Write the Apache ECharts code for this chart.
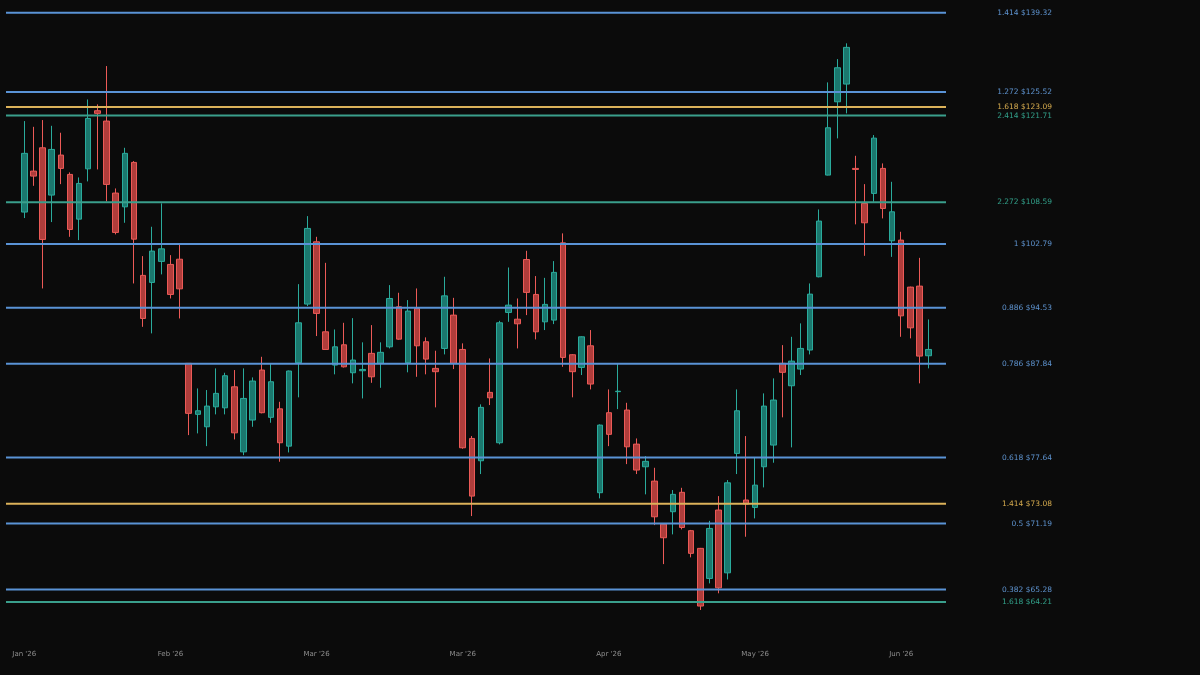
<!DOCTYPE html>
<html>
<head>
<meta charset="utf-8">
<script src="https://cdn.jsdelivr.net/npm/echarts@6/dist/echarts.min.js"></script>
<style>
html,body{margin:0;padding:0;background:#0b0b0b;}
#chart{width:1200px;height:675px;}
</style>
</head>
<body>
<div id="chart"></div>
<script>
// ---- data ----
const tickLabels = ["Jan '26", "Feb '26", "Mar '26", "Mar '26", "Apr '26", "May '26", "Jun '26"];

const open = [107.21,113.14,116.66,109.63,115.55,112.65,106.22,113.48,122.48,120.83,
  109.92,107.95,114.44,98.65,97.74,100.48,100.08,100.77,87.88,82.18,
  80.85,83.00,82.89,85.21,78.23,81.57,87.11,81.86,82.78,78.82,
  87.95,95.00,103.10,91.60,87.68,90.05,86.80,87.03,89.04,87.88,
  89.81,94.66,87.95,94.46,90.41,87.30,89.62,93.63,89.50,79.62,
  77.32,84.59,79.17,93.96,93.13,100.73,96.21,92.81,93.02,102.96,
  88.88,87.41,89.93,74.14,82.36,84.67,82.65,79.03,76.71,75.28,
  71.14,72.31,74.18,70.53,68.91,66.24,72.47,66.73,78.07,73.43,
  72.72,76.71,78.93,87.88,85.33,87.22,89.43,98.47,112.55,123.93,
  126.85,113.54,108.44,109.87,113.54,103.24,103.33,97.14,97.27,88.76];

const close = [115.81,112.40,103.42,116.41,113.54,104.79,111.32,121.25,122.06,111.18,
  104.38,115.81,103.46,93.22,101.85,102.15,96.21,96.92,82.29,82.57,
  83.08,84.48,86.46,80.21,83.92,85.86,82.36,85.78,79.17,87.00,
  92.69,104.93,93.84,89.50,89.81,87.48,88.26,87.18,86.34,89.16,
  95.70,90.72,94.13,89.93,88.37,86.92,96.03,87.88,78.65,73.81,
  82.94,83.99,92.69,94.87,92.57,96.47,91.60,94.96,99.04,88.57,
  86.92,91.00,85.52,81.03,80.05,84.72,78.75,76.38,77.26,71.83,
  69.88,73.98,70.83,68.46,63.88,70.74,65.43,75.11,82.57,73.04,
  74.88,83.08,83.74,86.85,88.14,89.62,96.25,105.95,119.77,129.60,
  133.12,113.39,105.71,118.15,107.72,107.25,93.54,92.08,88.72,89.50];

const low = [106.37,110.97,96.97,105.81,111.22,103.78,103.33,111.62,113.39,108.72,
  104.11,105.71,97.61,92.20,91.41,98.78,95.70,93.22,79.97,80.15,
  78.82,82.18,82.18,79.52,77.89,80.85,82.29,81.28,77.22,78.17,
  84.04,94.75,91.09,89.45,86.62,87.40,85.60,83.92,85.66,85.10,
  89.62,90.65,86.85,86.34,86.62,82.94,88.92,87.22,78.55,71.90,
  75.98,83.19,79.00,92.81,89.62,93.63,90.69,91.81,92.53,87.48,
  84.04,86.54,84.92,73.59,78.82,82.75,76.98,75.98,73.98,71.05,
  67.50,70.19,70.65,68.10,63.55,65.81,64.96,66.15,75.98,69.97,
  71.68,74.66,77.12,81.86,78.69,86.54,88.92,98.40,112.50,118.11,
  122.06,105.49,101.22,108.67,106.32,101.08,91.00,90.81,85.60,87.30];

const high = [120.83,119.92,120.99,120.08,118.99,112.95,112.20,124.31,123.51,129.89,
  110.59,116.66,114.64,101.18,105.16,108.44,101.31,102.79,87.91,85.03,
  84.85,87.30,86.80,87.11,87.30,86.27,88.64,87.88,83.55,87.05,
  97.52,106.64,103.78,100.29,91.88,92.69,93.26,90.34,92.41,90.34,
  97.40,96.42,95.50,96.97,90.93,89.35,98.47,95.78,90.22,79.87,
  83.27,88.45,92.93,99.68,95.70,101.89,98.56,98.33,100.52,104.25,
  88.95,91.05,91.81,81.10,84.92,87.80,83.44,79.62,77.79,76.61,
  71.20,74.40,74.62,70.60,68.95,71.45,73.81,75.38,84.92,79.87,
  77.66,84.48,86.16,90.01,91.00,92.62,97.61,107.58,127.13,131.08,
  133.83,115.44,111.22,118.63,114.29,111.56,104.47,97.20,100.95,93.10];

const categories = open.map((_, i) => String(i));

// Fibonacci levels: [ratio, price]
const retracementLevels = [[1.414,139.32],[1.272,125.52],[1,102.79],[0.886,94.53],[0.786,87.84],[0.618,77.64],[0.5,71.19],[0.382,65.28]];
const goldExtensionLevels = [[1.618,123.09],[1.414,73.08]];
const tealExtensionLevels = [[2.414,121.71],[2.272,108.59],[1.618,64.21]];

// ---- styles ----
const Y_MIN = 61.90, Y_MAX = 141.67;
const LABEL_FONT = 'DejaVu Sans';
const groupStyles = [
  {levels: retracementLevels, line: '#5a93d6', text: '#5e93cf'},
  {levels: goldExtensionLevels, line: '#dcb25a', text: '#d6ab4e'},
  {levels: tealExtensionLevels, line: '#3a9f8c', text: '#32a08a'}
];

const lineSeries = [];
groupStyles.forEach(g => {
  g.levels.forEach(([ratio, price]) => {
    const text = ratio + ' $' + price.toFixed(2);
    lineSeries.push({
      type: 'line',
      xAxisIndex: 1,
      yAxisIndex: 1,
      data: [[0, price], [1, price]],
      symbol: 'none',
      silent: true,
      z: 5,
      lineStyle: {color: g.line, width: 2},
      endLabel: {
        show: true,
        formatter: () => text,
        color: g.text,
        fontSize: 7.5,
        fontFamily: LABEL_FONT,
        align: 'right',
        distance: 0,
        offset: [106, 0]
      }
    });
  });
});

const chart = echarts.init(document.getElementById('chart'), null, {renderer: 'canvas'});
chart.setOption({
  backgroundColor: '#0b0b0b',
  animation: false,
  grid: [
    {left: 19.7, top: 0, width: 913.5, height: 630},
    {left: 6, top: 0, width: 940, height: 630}
  ],
  xAxis: [
    {
      type: 'category', gridIndex: 0, data: categories, boundaryGap: true,
      axisLine: {show: false}, axisTick: {show: false}, splitLine: {show: false},
      axisLabel: {
        interval: (i) => i % 16 === 0,
        formatter: (v) => { const t = tickLabels[Number(v) / 16]; return t === undefined ? '' : t; },
        color: '#8f8f8f', fontSize: 7, fontFamily: LABEL_FONT, margin: 21
      }
    },
    {type: 'value', gridIndex: 1, min: 0, max: 1, show: false}
  ],
  yAxis: [
    {type: 'log', gridIndex: 0, min: Y_MIN, max: Y_MAX, show: false},
    {type: 'log', gridIndex: 1, min: Y_MIN, max: Y_MAX, show: false}
  ],
  series: [
    {
      type: 'candlestick',
      xAxisIndex: 0,
      yAxisIndex: 0,
      data: open.map((o, i) => [o, close[i], low[i], high[i]]),
      barWidth: 6,
      z: 2,
      itemStyle: {
        color: 'rgba(30,140,128,0.85)',
        color0: 'rgba(205,70,68,0.85)',
        borderColor: '#2aab9c',
        borderColor0: '#ec5a57',
        borderWidth: 1
      }
    }
  ].concat(lineSeries)
});
</script>
</body>
</html>
